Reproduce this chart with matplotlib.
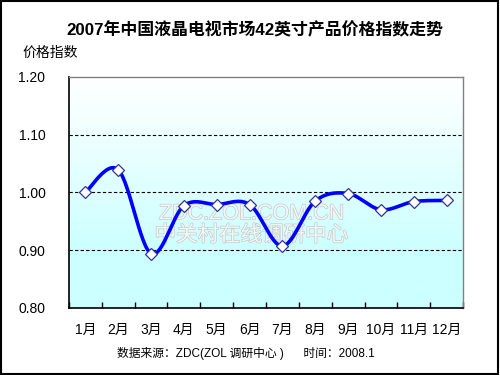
import numpy as np
import matplotlib
matplotlib.use("Agg")
import matplotlib.pyplot as plt
import matplotlib.patheffects as pe
from matplotlib.patches import Rectangle
from matplotlib.colors import LinearSegmentedColormap

months = ["1月", "2月", "3月", "4月", "5月", "6月", "7月", "8月", "9月", "10月", "11月", "12月"]
values = [1.000, 1.039, 0.894, 0.977, 0.979, 0.979, 0.907, 0.985, 0.998, 0.970, 0.984, 0.986]
yticks = [0.80, 0.90, 1.00, 1.10, 1.20]
title = "2007年中国液晶电视市场42英寸产品价格指数走势"
ylabel = "价格指数"
source = "数据来源：ZDC(ZOL 调研中心 )      时间：2008.1"

plt.rcParams['font.family'] = ['Liberation Sans', 'Noto Sans CJK SC', 'DejaVu Sans']

fig = plt.figure(figsize=(5, 3.75), dpi=100)
ax = fig.add_axes([0.138, 0.179, 0.788, 0.616])

x = np.arange(len(values))
y = np.array(values)

# Catmull-Rom style smoothing (Excel-like smoothed line)
def smooth(xp, yp, n=30):
    xs, ys = [], []
    P = np.column_stack([xp, yp])
    for i in range(len(P) - 1):
        p0 = P[i - 1] if i > 0 else P[i]
        p1 = P[i]
        p2 = P[i + 1]
        p3 = P[i + 2] if i + 2 < len(P) else P[i + 1]
        c1 = p1 + (p2 - p0) / 6.0
        c2 = p2 - (p3 - p1) / 6.0
        t = np.linspace(0, 1, n)[:, None]
        B = (1 - t) ** 3 * p1 + 3 * (1 - t) ** 2 * t * c1 + 3 * (1 - t) * t ** 2 * c2 + t ** 3 * p2
        xs.extend(B[:, 0]); ys.extend(B[:, 1])
    return np.array(xs), np.array(ys)

sx, sy = smooth(x, y)

# gradient background: light cyan at bottom (row 0, origin lower), white at top
grad = np.linspace(1, 0, 256)[:, None]
cmap = LinearSegmentedColormap.from_list("g", [(0, "#ffffff"), (0.75, "#ccffff"), (1, "#ccffff")])
ax.imshow(grad, extent=[-0.5, len(values) - 0.5, yticks[0], yticks[-1]], aspect='auto',
          cmap=cmap, vmin=0, vmax=1, zorder=0, origin='lower')

ax.set_xlim(-0.5, len(values) - 0.5)
ax.set_ylim(yticks[0], yticks[-1])

for g in yticks[1:-1]:
    ax.axhline(g, color='black', lw=0.8, ls=(0, (3, 2)), zorder=1)

ax.plot(sx, sy, color='#0000ff', lw=2.6, zorder=3, solid_capstyle='round')
ax.plot(x, y, ls='none', marker='D', ms=6, mfc='white', mec='#333399', mew=0.9, zorder=4)

# watermark
wm_eff = [pe.withStroke(linewidth=0.9, foreground='#c4c4c4')]
ax.text(5.05, 0.963, "ZDC.ZOL.COM.CN", fontsize=15.5, color='#f2f6f6', ha='center', va='center',
        path_effects=wm_eff, zorder=2)
ax.text(5.05, 0.925, "中关村在线调研中心", fontsize=15.5, color='#f2f6f6', ha='center', va='center',
        path_effects=wm_eff, zorder=2)

ax.set_yticks(yticks)
ax.set_yticklabels([f"{v:.2f}" for v in yticks], fontsize=10)
ax.tick_params(axis='y', length=0, pad=17)

ax.set_xticks(np.arange(-0.5, len(values), 1.0))
ax.set_xticklabels([])
ax.tick_params(axis='x', which='major', direction='in', length=4, width=1)
ax.set_xticks(x, minor=True)
ax.set_xticklabels(months, minor=True, fontsize=10)
ax.tick_params(axis='x', which='minor', length=0, pad=11)

for s in ['top', 'right']:
    ax.spines[s].set_color('#808080')
    ax.spines[s].set_linewidth(1)
for s in ['left', 'bottom']:
    ax.spines[s].set_color('black')
    ax.spines[s].set_linewidth(1.2)

fig.text(0.51, 0.92, title, fontsize=12.2, fontweight='bold', ha='center', va='center')
fig.text(0.044, 0.858, ylabel, fontsize=10, ha='left', va='center')
fig.text(0.492, 0.058, source, fontsize=8.5, ha='center', va='center')

fig.patches.append(Rectangle((0.002, 0.003), 0.994, 0.994, transform=fig.transFigure,
                             fill=False, edgecolor='black', lw=1.5))

fig.savefig("out.png", dpi=100)
